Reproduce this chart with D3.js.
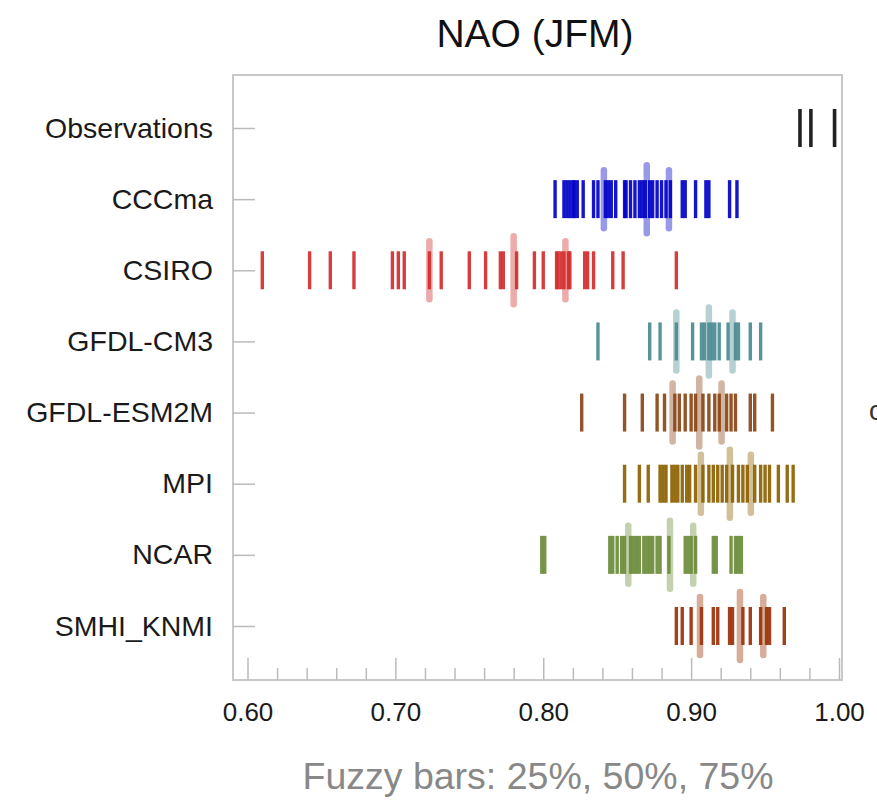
<!DOCTYPE html>
<html><head><meta charset="utf-8">
<script src="https://cdn.jsdelivr.net/npm/d3@7"></script>
<style>body{margin:0;background:#fff}svg{display:block}</style>
</head><body>
<svg id="chart" width="877" height="800"></svg>
<script>
const categories = ["Observations","CCCma","CSIRO","GFDL-CM3","GFDL-ESM2M","MPI","NCAR","SMHI_KNMI"];
const colors = ["#111111","#0000c8","#d22e2e","#4b8b91","#8b4513","#8b6207","#6b8c3a","#9a3208"];
const xTicks = [0.60, 0.70, 0.80, 0.90, 1.00];
const xMinorTicks = [0.62,0.64,0.66,0.68,0.72,0.74,0.76,0.78,0.82,0.84,0.86,0.88,0.92,0.94,0.96,0.98];

const observations = [0.9736, 0.981, 0.997];
const cccma = [0.808,0.814,0.816,0.818,0.820,0.821,0.823,0.827,0.834,0.837,0.842,0.844,0.846,0.849,0.855,0.856,0.859,0.862,0.865,0.867,0.869,0.872,0.874,0.877,0.880,0.883,0.886,0.894,0.896,0.903,0.910,0.912,0.926,0.931];
const csiro = [0.610,0.642,0.656,0.672,0.698,0.702,0.706,0.723,0.731,0.750,0.761,0.771,0.773,0.782,0.794,0.800,0.809,0.810,0.812,0.814,0.817,0.818,0.828,0.830,0.834,0.847,0.854,0.890];
const gfdlCm3 = [0.837,0.872,0.879,0.890,0.901,0.907,0.909,0.912,0.914,0.916,0.919,0.925,0.930,0.932,0.940,0.947];
const gfdlEsm2m = [0.826,0.855,0.867,0.877,0.882,0.889,0.892,0.896,0.900,0.903,0.908,0.912,0.916,0.919,0.924,0.927,0.930,0.940,0.943,0.955];
const mpi = [0.855,0.865,0.871,0.879,0.881,0.883,0.887,0.889,0.891,0.894,0.897,0.899,0.903,0.908,0.912,0.915,0.918,0.921,0.924,0.928,0.932,0.935,0.938,0.943,0.947,0.950,0.953,0.959,0.965,0.969];
const ncar = [0.799,0.801,0.845,0.847,0.850,0.853,0.855,0.859,0.861,0.863,0.865,0.868,0.870,0.872,0.874,0.877,0.879,0.885,0.896,0.898,0.900,0.903,0.915,0.917,0.927,0.930,0.932,0.934];
const smhiKnmi = [0.890,0.894,0.900,0.907,0.915,0.918,0.926,0.928,0.935,0.940,0.947,0.951,0.953,0.963];

const observationsQ = [];
const cccmaQ = [0.841, 0.870, 0.885];
const csiroQ = [0.723, 0.780, 0.815];
const gfdlCm3Q = [0.890, 0.912, 0.928];
const gfdlEsm2mQ = [0.8875, 0.9055, 0.9206];
const mpiQ = [0.9066, 0.9262, 0.9404];
const ncarQ = [0.8575, 0.8857, 0.9014];
const smhiKnmiQ = [0.906, 0.933, 0.9488];

const seriesValues = [observations, cccma, csiro, gfdlCm3, gfdlEsm2m, mpi, ncar, smhiKnmi];
const quartileValues = [observationsQ, cccmaQ, csiroQ, gfdlCm3Q, gfdlEsm2mQ, mpiQ, ncarQ, smhiKnmiQ];

const svg = d3.select("#chart");
const font = "'Liberation Sans', Arial, Helvetica, sans-serif";
const frameL = 233, frameR = 842, frameT = 75, frameB = 680;

const x = d3.scaleLinear().domain([0.6, 1.0]).range([247.5, 839]);
const y = d3.scalePoint().domain(categories).range([128, 626]);

const defs = svg.append("defs");
defs.append("filter").attr("id", "soft").attr("x", "-50%").attr("y", "-10%").attr("width", "200%").attr("height", "120%")
  .append("feGaussianBlur").attr("stdDeviation", 0.45);

// frame
svg.append("rect").attr("x", frameL).attr("y", frameT).attr("width", frameR-frameL).attr("height", frameB-frameT)
  .attr("fill", "none").attr("stroke", "#c8c8c8").attr("stroke-width", 2);

// minor ticks
const minorAxis = d3.axisBottom(x).tickValues(xMinorTicks).tickSize(-12).tickFormat("");
const gm = svg.append("g").attr("transform", `translate(0,${frameB})`).call(minorAxis);
gm.select(".domain").remove();
gm.selectAll("line").attr("stroke", "#bbbbbb").attr("stroke-width", 1.5);

// major ticks
const xAxis = d3.axisBottom(x).tickValues(xTicks).tickSize(-22).tickPadding(23).tickFormat(d3.format(".2f"));
const gx = svg.append("g").attr("transform", `translate(0,${frameB})`).call(xAxis);
gx.select(".domain").remove();
gx.selectAll("line").attr("stroke", "#bbbbbb").attr("stroke-width", 1.5);
gx.selectAll("text").attr("font-family", font).attr("font-size", 26).attr("fill", "#1a1a1a");

// y axis
const yAxis = d3.axisLeft(y).tickSize(-22).tickPadding(20);
const gy = svg.append("g").attr("transform", `translate(${frameL},0)`).call(yAxis);
gy.select(".domain").remove();
gy.selectAll("line").attr("stroke", "#bbbbbb").attr("stroke-width", 1.5);
gy.selectAll("text").attr("font-family", font).attr("font-size", 28.5).attr("fill", "#1a1a1a");

// bars
categories.forEach((cat, i) => {
  const g = svg.append("g").attr("filter", "url(#soft)");
  g.selectAll("line.bar").data(seriesValues[i]).join("line")
    .attr("class", "bar")
    .attr("x1", d => x(d)).attr("x2", d => x(d))
    .attr("y1", y(cat) - 19).attr("y2", y(cat) + 19)
    .attr("stroke", colors[i]).attr("stroke-width", i === 0 ? 3.6 : 3.4).attr("stroke-opacity", 0.92);
  const halfH = [29, 34, 29];
  g.selectAll("line.q").data(quartileValues[i]).join("line")
    .attr("class", "q")
    .attr("x1", d => x(d)).attr("x2", d => x(d))
    .attr("y1", (d, k) => y(cat) - halfH[k]).attr("y2", (d, k) => y(cat) + halfH[k])
    .attr("stroke", colors[i]).attr("stroke-width", 6.5).attr("stroke-opacity", 0.4)
    .attr("stroke-linecap", "round");
});

// title
svg.append("text").attr("x", 535).attr("y", 47).attr("text-anchor", "middle")
  .attr("font-family", font).attr("font-size", 39).attr("fill", "#111").text("NAO (JFM)");

// footer
svg.append("text").attr("x", 538).attr("y", 789).attr("text-anchor", "middle")
  .attr("font-family", font).attr("font-size", 37.5).attr("fill", "#888").text("Fuzzy bars: 25%, 50%, 75%");

// cut-off character at right edge (as in the reference)
svg.append("text").attr("x", 869).attr("y", 420)
  .attr("font-family", font).attr("font-size", 27).attr("fill", "#333").text("c");
</script>
</body></html>
